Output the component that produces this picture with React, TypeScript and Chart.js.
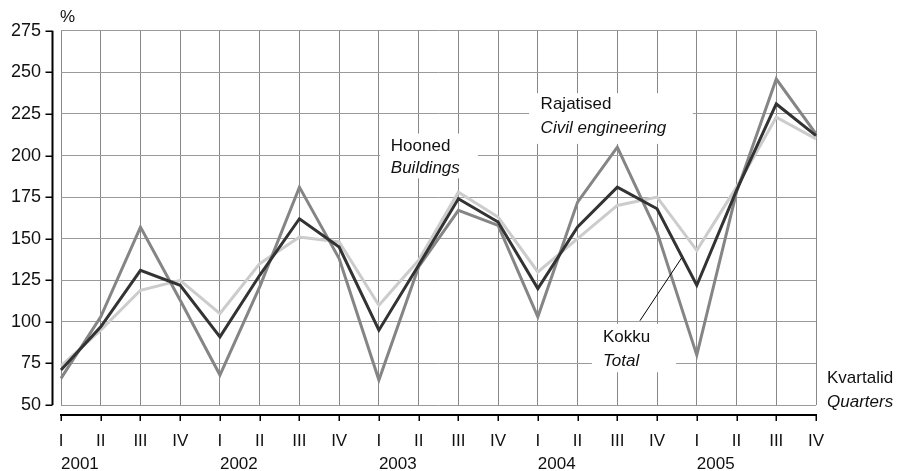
import { useEffect, useRef } from 'react';
import { Chart, registerables } from 'chart.js';

Chart.register(...registerables);

const quarters = ['I', 'II', 'III', 'IV', 'I', 'II', 'III', 'IV', 'I', 'II', 'III', 'IV', 'I', 'II', 'III', 'IV', 'I', 'II', 'III', 'IV'];
const years = ['2001', '', '', '', '2002', '', '', '', '2003', '', '', '', '2004', '', '', '', '2005', '', '', ''];

const total = [71, 97, 131, 122, 91, 128, 162, 145, 95, 134, 174, 160, 120, 157, 181, 168, 122, 179, 231, 212];
const buildings = [73.5, 95, 119, 125, 105, 135, 151, 148, 110, 137, 178, 163, 130, 150, 170, 175, 143, 181, 223, 210];
const civil = [66, 103, 157, 113, 68, 121, 181, 138, 65, 133, 167, 158, 103, 172, 205, 154, 80, 178, 246, 213];

const yMin = 50;
const yMax = 275;
const yStep = 25;

const FONT = "'Liberation Sans', Arial, Helvetica, sans-serif";

type Label = { text: string; italic: boolean; x: number; y: number };
type Note = { box: [number, number, number, number]; lines: Label[] };

// positions in data units (category index, value)
const notes: Note[] = [
  {
    box: [8.03, 213.2, 10.49, 186.3],
    lines: [
      { text: 'Hooned', italic: false, x: 8.3, y: 205.8 },
      { text: 'Buildings', italic: true, x: 8.3, y: 192.3 },
    ],
  },
  {
    box: [11.78, 237.5, 15.9, 207],
    lines: [
      { text: 'Rajatised', italic: false, x: 12.07, y: 230.5 },
      { text: 'Civil engineering', italic: true, x: 12.07, y: 216.1 },
    ],
  },
  {
    box: [13.36, 98.8, 15.48, 69.7],
    lines: [
      { text: 'Kokku', italic: false, x: 13.64, y: 90.8 },
      { text: 'Total', italic: true, x: 13.64, y: 76.3 },
    ],
  },
];
const leader = [14.57, 100.7, 15.62, 138.5];

const boxesPlugin = {
  id: 'boxes',
  beforeDatasetsDraw(chart: any) {
    const { ctx, scales } = chart;
    const xs = scales.x, ys = scales.y;
    ctx.save();
    ctx.fillStyle = '#ffffff';
    for (const n of notes) {
      const x1 = xs.getPixelForValue(n.box[0]);
      const y1 = ys.getPixelForValue(n.box[1]);
      const x2 = xs.getPixelForValue(n.box[2]);
      const y2 = ys.getPixelForValue(n.box[3]);
      ctx.fillRect(x1, y1, x2 - x1, y2 - y1);
    }
    ctx.restore();
  },
  afterDraw(chart: any) {
    const { ctx, scales, chartArea } = chart;
    const xs = scales.x, ys = scales.y;
    ctx.save();
    ctx.fillStyle = '#111';
    ctx.textBaseline = 'middle';
    ctx.textAlign = 'left';
    for (const n of notes) {
      for (const l of n.lines) {
        ctx.font = `${l.italic ? 'italic ' : ''}17px ${FONT}`;
        ctx.fillText(l.text, xs.getPixelForValue(l.x), ys.getPixelForValue(l.y));
      }
    }
    // leader line
    ctx.strokeStyle = '#000';
    ctx.lineWidth = 1;
    ctx.beginPath();
    ctx.moveTo(xs.getPixelForValue(leader[0]), ys.getPixelForValue(leader[1]));
    ctx.lineTo(xs.getPixelForValue(leader[2]), ys.getPixelForValue(leader[3]));
    ctx.stroke();

    // y axis line & ticks
    const ax = chartArea.left - 8.5;
    ctx.strokeStyle = '#000';
    ctx.lineWidth = 2;
    ctx.beginPath();
    ctx.moveTo(ax, ys.getPixelForValue(yMax));
    ctx.lineTo(ax, ys.getPixelForValue(yMin));
    ctx.stroke();
    ctx.lineWidth = 1.5;
    for (let v = yMin; v <= yMax; v += yStep) {
      const p = Math.round(ys.getPixelForValue(v)) + 0.25;
      ctx.beginPath();
      ctx.moveTo(ax - 7, p);
      ctx.lineTo(ax, p);
      ctx.stroke();
    }
    // x axis line & ticks
    const ay = chartArea.bottom + 10;
    ctx.lineWidth = 2;
    ctx.beginPath();
    ctx.moveTo(xs.getPixelForValue(0) - 1, ay);
    ctx.lineTo(xs.getPixelForValue(quarters.length - 1) + 1, ay);
    ctx.stroke();
    ctx.lineWidth = 1.5;
    for (let i = 0; i < quarters.length; i++) {
      const p = Math.round(xs.getPixelForValue(i)) + 0.25;
      ctx.beginPath();
      ctx.moveTo(p, ay);
      ctx.lineTo(p, ay + 6);
      ctx.stroke();
    }

    // unit and axis titles
    ctx.font = `17px ${FONT}`;
    ctx.fillText('%', chartArea.left - 1, chartArea.top - 13);
    ctx.fillText('Kvartalid', chartArea.right + 11, chartArea.bottom - 27);
    ctx.font = `italic 17px ${FONT}`;
    ctx.fillText('Quarters', chartArea.right + 11, chartArea.bottom - 3);
    ctx.restore();
  },
};

export default function App() {
  const ref = useRef<HTMLCanvasElement>(null);
  useEffect(() => {
    document.body.style.margin = '0';
    const canvas = ref.current!;
    const chart = new Chart(canvas, {
      type: 'line',
      data: {
        labels: quarters,
        datasets: [
          { label: 'Kokku / Total', data: total, borderColor: '#333333', borderWidth: 3, pointRadius: 0, order: 0, tension: 0 },
          { label: 'Rajatised / Civil engineering', data: civil, borderColor: '#858585', borderWidth: 3, pointRadius: 0, order: 1, tension: 0 },
          { label: 'Hooned / Buildings', data: buildings, borderColor: '#cccccc', borderWidth: 3, pointRadius: 0, order: 2, tension: 0 },
        ],
      },
      options: {
        responsive: false,
        animation: false,
        devicePixelRatio: 1,
        layout: { padding: { top: 28, right: 83, left: 0, bottom: 0 } },
        plugins: { legend: { display: false }, tooltip: { enabled: false } },
        scales: {
          x: {
            type: 'category',
            offset: false,
            grid: { color: '#888888', lineWidth: 1, drawTicks: false },
            border: { display: false },
            ticks: { autoSkip: false, maxRotation: 0, padding: 26, color: '#111', font: { size: 17, family: FONT } },
            afterFit: (s: any) => { s.height = 48; },
          },
          x2: {
            type: 'category',
            position: 'bottom',
            labels: years,
            offset: false,
            grid: { display: false, drawTicks: false },
            border: { display: false },
            ticks: { autoSkip: false, maxRotation: 0, align: 'start', padding: 1, color: '#111', font: { size: 17, family: FONT } },
            afterFit: (s: any) => { s.height = 18; },
          },
          y: {
            min: yMin,
            max: yMax,
            grid: { color: '#9a9a9a', lineWidth: 1, drawTicks: false },
            border: { display: false },
            ticks: { stepSize: yStep, padding: 20, color: '#111', font: { size: 18, family: FONT } },
            afterFit: (s: any) => { s.width = 61; },
          },
        },
      },
      plugins: [boxesPlugin],
    });
    return () => chart.destroy();
  }, []);
  return (
    <div style={{ width: 899, height: 471, position: 'relative' }}>
      <canvas ref={ref} width={899} height={471} />
    </div>
  );
}
